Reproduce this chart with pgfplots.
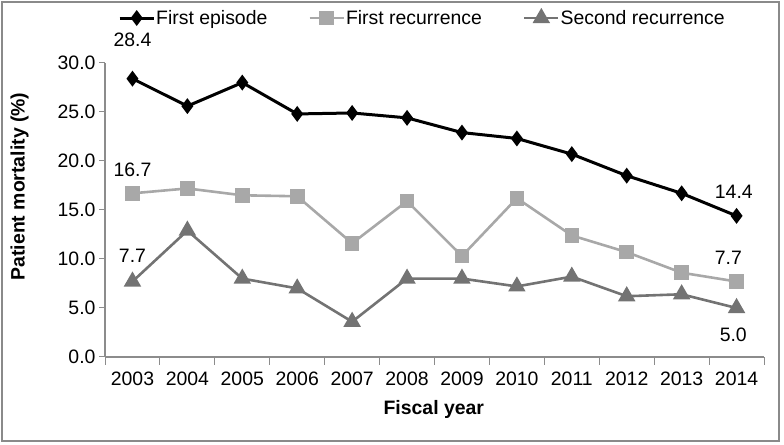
\documentclass[border=0pt]{standalone}
\usepackage{pgfplots}
\pgfplotsset{compat=1.18}
\usepackage{fontspec}
\setmainfont{Liberation Sans}
\definecolor{lg}{HTML}{A8A8A8}
\definecolor{dg}{HTML}{737373}
\definecolor{axg}{HTML}{8C8C8C}
\definecolor{frm}{HTML}{8A8A8A}
\begin{document}
\begin{tikzpicture}[x=1bp,y=1bp]
\useasboundingbox (0,0) rectangle (784,445);
\draw[frm, line width=2bp] (2,4) rectangle (779,443);
\begin{axis}[
  at={(105bp,88bp)}, anchor=south west,
  scale only axis, width=659bp, height=294bp,
  xmin=-0.5, xmax=11.5, ymin=0, ymax=30,
  axis lines*=left,
  axis line style={draw=axg, line width=1.2bp},
  xtick={0,...,11},
  xticklabels={2003,2004,2005,2006,2007,2008,2009,2010,2011,2012,2013,2014},
  minor xtick={-0.5,0.5,...,11.5},
  ytick={0,5,...,30},
  tick align=outside,
  major tick length=6bp, minor tick length=8bp,
  tick style={axg, line width=1bp},
  major x tick style={draw=none},
  xticklabel style={yshift=-5bp},
  yticklabel style={/pgf/number format/.cd, fixed, fixed zerofill, precision=1},
  /pgf/number format/assume math mode=true,
  tick label style={font=\fontsize{19.5}{23}\selectfont, text=black},
  xlabel={\textbf{Fiscal year}},
  xlabel style={at={(axis description cs:0.499,-0.177)}, anchor=center, font=\fontsize{19.5}{23}\selectfont},
  ylabel={\textbf{Patient mortality (\%)}},
  ylabel style={at={(axis description cs:-0.1297,0.58)}, anchor=center, font=\fontsize{19.5}{23}\selectfont},
  legend columns=3,
  legend style={at={(axis description cs:0.481,1.153)}, anchor=center, draw=none, fill=none,
    font=\fontsize{19.5}{23}\selectfont,
    /tikz/every even column/.append style={column sep=40bp},
    nodes={inner xsep=1bp}},
  legend image code/.code={\draw[mark repeat=2,mark phase=2,#1] plot coordinates {(0bp,0bp)(17bp,0bp)(34bp,0bp)};},
  clip=false,
]
\addplot[black, line width=3bp, mark=diamond*, mark size=5.5bp, mark options={solid, fill=black}] coordinates {
(0,28.4)(1,25.6)(2,28.0)(3,24.8)(4,24.9)(5,24.4)(6,22.9)(7,22.3)(8,20.7)(9,18.5)(10,16.7)(11,14.4)};
\addlegendentry{First episode}
\addplot[lg, line width=2.6bp, mark=square*, mark size=6bp, mark options={solid, fill=lg, draw=lg}] coordinates {
(0,16.7)(1,17.2)(2,16.5)(3,16.4)(4,11.6)(5,15.9)(6,10.3)(7,16.2)(8,12.4)(9,10.7)(10,8.6)(11,7.7)};
\addlegendentry{First recurrence}
\addplot[dg, line width=2.6bp, mark=triangle*, mark size=7.5bp, mark options={solid, fill=dg, draw=dg}] coordinates {
(0,7.7)(1,12.9)(2,8.0)(3,7.0)(4,3.6)(5,8.0)(6,8.0)(7,7.2)(8,8.2)(9,6.2)(10,6.4)(11,5.0)};
\addlegendentry{Second recurrence}
\node[font=\fontsize{19.5}{23}\selectfont] at (axis cs:0,32.4) {28.4};
\node[font=\fontsize{19.5}{23}\selectfont] at (axis cs:0,19.1) {16.7};
\node[font=\fontsize{19.5}{23}\selectfont] at (axis cs:0,10.3) {7.7};
\node[font=\fontsize{19.5}{23}\selectfont] at (axis cs:10.95,16.9) {14.4};
\node[font=\fontsize{19.5}{23}\selectfont] at (axis cs:10.85,10.1) {7.7};
\node[font=\fontsize{19.5}{23}\selectfont] at (axis cs:10.94,2.28) {5.0};
\end{axis}
\end{tikzpicture}
\end{document}
